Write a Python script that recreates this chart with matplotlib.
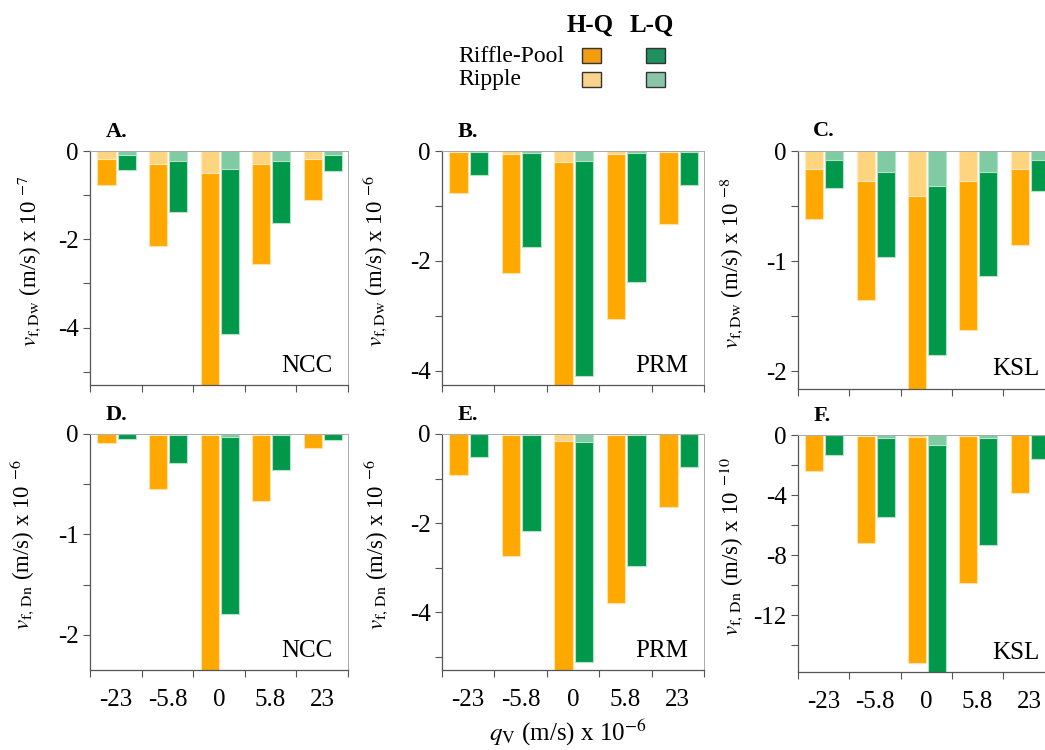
import matplotlib
matplotlib.use('Agg')
import matplotlib.pyplot as plt
from matplotlib.patches import Rectangle
from matplotlib.ticker import MultipleLocator, FixedLocator, NullFormatter, FixedFormatter, FuncFormatter

plt.rcParams['font.family'] = ['Liberation Serif', 'DejaVu Serif']
plt.rcParams['mathtext.fontset'] = 'stix'
plt.rcParams['axes.unicode_minus'] = False

# vertical exchange velocity q_V (m/s) x 10^-6
q_labels = ['-23', '-5.8', '0', '5.8', '23']

# riffle-pool totals and ripple parts, high discharge (H-Q) / low discharge (L-Q)
A_hq_riffle = [-0.78, -2.15, -5.6, -2.55, -1.10]
A_hq_ripple = [-0.17, -0.30, -0.49, -0.30, -0.18]
A_lq_riffle = [-0.44, -1.38, -4.14, -1.64, -0.46]
A_lq_ripple = [-0.08, -0.23, -0.40, -0.23, -0.08]

B_hq_riffle = [-0.76, -2.23, -4.4, -3.06, -1.33]
B_hq_ripple = [-0.01, -0.05, -0.20, -0.05, -0.02]
B_lq_riffle = [-0.44, -1.75, -4.09, -2.38, -0.61]
B_lq_ripple = [-0.01, -0.03, -0.18, -0.04, -0.02]

C_hq_riffle = [-0.62, -1.35, -2.3, -1.63, -0.85]
C_hq_ripple = [-0.16, -0.27, -0.41, -0.27, -0.16]
C_lq_riffle = [-0.34, -0.96, -1.85, -1.14, -0.36]
C_lq_ripple = [-0.08, -0.19, -0.32, -0.19, -0.08]

D_hq_riffle = [-0.086, -0.55, -2.5, -0.67, -0.14]
D_hq_ripple = [-0.003, -0.005, -0.01, -0.005, -0.003]
D_lq_riffle = [-0.05, -0.29, -1.79, -0.36, -0.06]
D_lq_ripple = [-0.003, -0.005, -0.03, -0.005, -0.003]

E_hq_riffle = [-0.91, -2.75, -5.5, -3.79, -1.63]
E_hq_ripple = [-0.01, -0.02, -0.16, -0.02, -0.01]
E_lq_riffle = [-0.52, -2.17, -5.13, -2.97, -0.73]
E_lq_ripple = [-0.01, -0.02, -0.19, -0.02, -0.01]

F_hq_riffle = [-2.42, -7.18, -15.2, -9.87, -3.86]
F_hq_ripple = [-0.02, -0.05, -0.1, -0.05, -0.02]
F_lq_riffle = [-1.35, -5.45, -16.5, -7.34, -1.57]
F_lq_ripple = [-0.03, -0.18, -0.67, -0.18, -0.03]

orange, orange_lt = '#FFA800', '#FED47F'
green, green_lt = '#00984A', '#80CBA4'

fig = plt.figure(figsize=(10.45, 7.5), dpi=100)

W, H = 1045.0, 750.0


def box(left, top, right, bottom):
    return [left / W, 1 - bottom / H, (right - left) / W, (bottom - top) / H]


panels = [
    ('A.', 'NCC', 'Dw', -7, A_hq_riffle, A_hq_ripple, A_lq_riffle, A_lq_ripple, -5.3, 2, 1, box(90, 151, 348, 385), -0.236),
    ('B.', 'PRM', 'Dw', -6, B_hq_riffle, B_hq_ripple, B_lq_riffle, B_lq_ripple, -4.26, 2, 1, box(441.7, 151, 704, 385), -0.254),
    ('C.', 'KSL', 'Dw', -8, C_hq_riffle, C_hq_ripple, C_lq_riffle, C_lq_ripple, -2.16, 1, 0.5, box(797.7, 151, 1054.7, 388.7), -0.26),
    ('D.', 'NCC', 'Dn', -6, D_hq_riffle, D_hq_ripple, D_lq_riffle, D_lq_ripple, -2.35, 1, 0.5, box(90, 434, 348, 670), -0.26),
    ('E.', 'PRM', 'Dn', -6, E_hq_riffle, E_hq_ripple, E_lq_riffle, E_lq_ripple, -5.3, 2, 1, box(441.7, 434, 704, 670), -0.247),
    ('F.', 'KSL', 'Dn', -10, F_hq_riffle, F_hq_ripple, F_lq_riffle, F_lq_ripple, -15.8, 4, 2, box(797.7, 435, 1054.7, 672), -0.26),
]

x = list(range(len(q_labels)))
x_hq = [i - 0.18 for i in x]
x_lq = [i + 0.21 for i in x]
bw = 0.35

for n, (letter, site, sub, expo, hq_rp, hq_r, lq_rp, lq_r, ybot, major, minor, pos, lab_x) in enumerate(panels):
    ax = fig.add_axes(pos)
    ax.bar(x_hq, hq_rp, width=bw, color=orange, edgecolor='#FFE2A8', linewidth=0.8)
    ax.bar(x_hq, hq_r, width=bw, color=orange_lt, edgecolor='#FFE9BE', linewidth=0.8)
    ax.bar(x_lq, lq_rp, width=bw, color=green, edgecolor='#B5E3C8', linewidth=0.8)
    ax.bar(x_lq, lq_r, width=bw, color=green_lt, edgecolor='#B5E3C8', linewidth=0.8)

    ax.set_xlim(-0.5, 4.5)
    ax.set_ylim(ybot, 0)

    ax.yaxis.set_major_locator(MultipleLocator(major))
    ax.yaxis.set_minor_locator(MultipleLocator(minor))
    ax.yaxis.set_major_formatter(FuncFormatter(lambda v, p: '%g' % v if abs(v) > 1e-9 else '0'))
    ax.tick_params(axis='y', which='both', direction='out', length=5, width=0.8,
                   color='#555555', labelsize=18, pad=3)

    # group boundaries get tick marks, group centres get the labels
    ax.xaxis.set_major_locator(FixedLocator([-0.5, 0.5, 1.5, 2.5, 3.5, 4.5]))
    ax.xaxis.set_major_formatter(NullFormatter())
    ax.xaxis.set_minor_locator(FixedLocator(x))
    if n >= 3:
        ax.xaxis.set_minor_formatter(FixedFormatter(q_labels))
    else:
        ax.xaxis.set_minor_formatter(NullFormatter())
    ax.tick_params(axis='x', which='major', direction='out', length=5, width=0.8, color='#555555')
    ax.tick_params(axis='x', which='minor', length=0, labelsize=18, pad=14)

    for s in ['left', 'bottom']:
        ax.spines[s].set_color('#555555')
        ax.spines[s].set_linewidth(0.9)
    for s in ['top', 'right']:
        ax.spines[s].set_color('#aaaaaa')
        ax.spines[s].set_linewidth(0.7)

    ax.set_ylabel(r'$v_{\rm f,%s}$ (m/s) x 10 ${}^{%d}$' % (sub if sub == 'Dw' else r'\,' + sub, expo),
                  fontsize=16.5, va='center')
    ax.yaxis.set_label_coords(lab_x, 0.53)

    ax.text(0.06, 1.04, letter, transform=ax.transAxes, fontsize=16, fontweight='bold',
            ha='left', va='bottom')
    ax.text(0.94, 0.035, site, transform=ax.transAxes, fontsize=18, ha='right', va='bottom')

fig.text(0.543, 9 / H, r'$q_{\rm V}$ (m/s) x 10$^{-6}$', fontsize=18, ha='center', va='baseline')

# legend drawn by hand: column headers and a 2x2 grid of swatches
fig.text(590 / W, 1 - 25 / H, 'H-Q', fontsize=18, fontweight='bold', ha='center', va='center')
fig.text(652 / W, 1 - 25 / H, 'L-Q', fontsize=18, fontweight='bold', ha='center', va='center')
fig.text(458 / W, 1 - 57 / H, 'Riffle-Pool', fontsize=17, ha='left', va='center')
fig.text(458 / W, 1 - 80 / H, 'Ripple', fontsize=17, ha='left', va='center')
swatches = [(582, 48, '#F39C12'), (646, 48, '#1F8F5B'), (582, 72, '#FBD38A'), (646, 72, '#88C5A8')]
for sx, sy, c in swatches:
    fig.add_artist(Rectangle((sx / W, 1 - (sy + 15) / H), 19 / W, 15 / H, transform=fig.transFigure,
                             facecolor=c, edgecolor='#333333', linewidth=1.0))

fig.savefig('out.png', dpi=100)
